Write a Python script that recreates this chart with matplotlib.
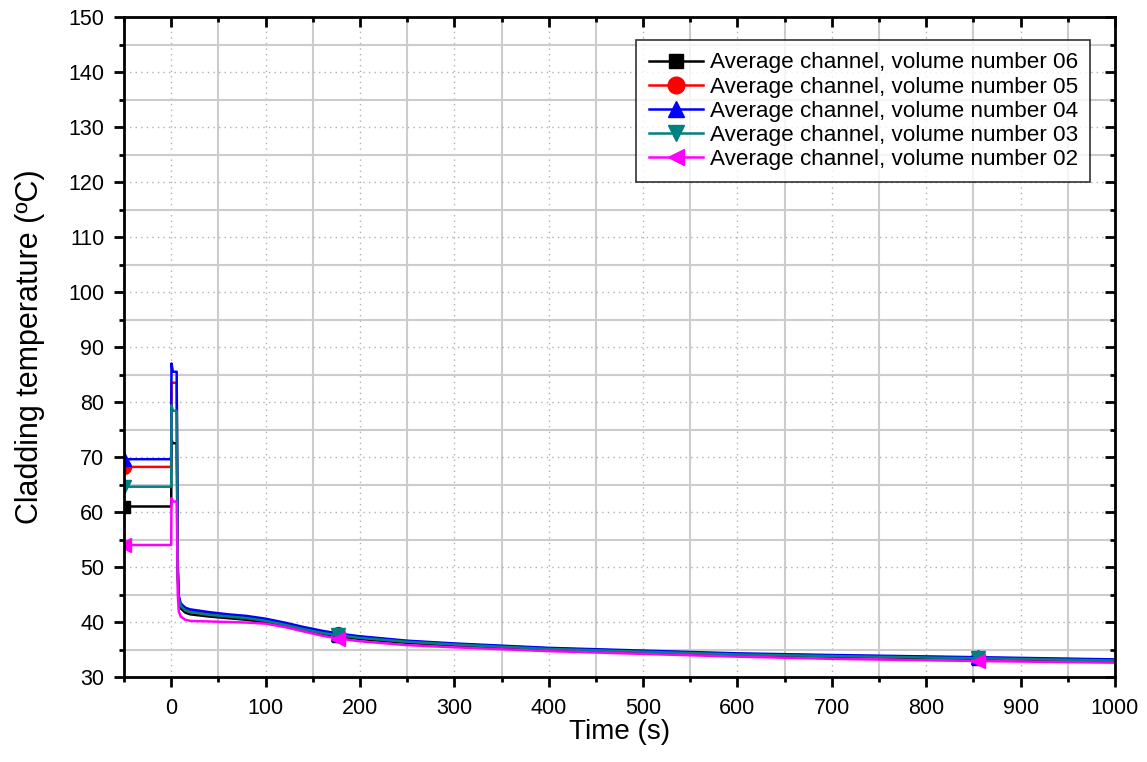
import matplotlib
matplotlib.use('Agg')

import numpy as np
import matplotlib.pyplot as plt
from matplotlib.ticker import MultipleLocator

plt.rcParams['font.family'] = ['Liberation Sans', 'DejaVu Sans']

# ── Dados ─────────────────────────────────────────────────────────────────────
t_vol04 = [-50, 0, 0.3, 1.8, 5.8, 7.0, 8, 10, 15, 20, 40, 60, 80, 100, 120, 140,
           160, 177, 200, 250, 300, 400, 500, 600, 700, 855, 1000]
T_vol04 = [69.6, 69.6, 87.0, 85.5, 85.5, 50.0, 44.8, 43.4, 42.6, 42.3, 41.8, 41.4,
           41.1, 40.6, 39.9, 39.1, 38.4, 37.9, 37.4, 36.6, 36.1, 35.3, 34.8, 34.3,
           34.0, 33.6, 33.2]

t_vol05 = [-50, 0, 0.3, 1.8, 5.8, 7.0, 8, 10, 15, 20, 40, 60, 80, 100, 120, 140,
           160, 177, 200, 250, 300, 400, 500, 600, 700, 855, 1000]
T_vol05 = [68.2, 68.2, 83.5, 83.5, 83.5, 50.0, 44.6, 43.2, 42.4, 42.1, 41.6, 41.2,
           40.9, 40.4, 39.7, 38.9, 38.2, 37.8, 37.3, 36.5, 36.0, 35.2, 34.7, 34.2,
           33.9, 33.5, 33.1]

t_vol03 = [-50, 0, 0.3, 1.8, 5.8, 7.0, 8, 10, 15, 20, 40, 60, 80, 100, 120, 140,
           160, 177, 200, 250, 300, 400, 500, 600, 700, 855, 1000]
T_vol03 = [64.6, 64.6, 79.4, 78.4, 78.4, 49.0, 44.2, 42.9, 42.1, 41.8, 41.3, 41.0,
           40.7, 40.2, 39.5, 38.7, 38.0, 37.6, 37.1, 36.4, 35.9, 35.1, 34.6, 34.1,
           33.8, 33.4, 33.0]

t_vol06 = [-50, 0, 0.3, 1.8, 5.8, 7.0, 8, 10, 15, 20, 40, 60, 80, 100, 120, 140,
           160, 177, 200, 250, 300, 400, 500, 600, 700, 855, 1000]
T_vol06 = [61.0, 61.0, 73.1, 72.5, 72.5, 48.0, 43.8, 42.5, 41.7, 41.4, 41.0, 40.7,
           40.4, 39.9, 39.2, 38.4, 37.8, 37.4, 36.9, 36.2, 35.7, 35.0, 34.5, 34.0,
           33.7, 33.3, 32.9]

t_vol02 = [-50, 0, 0.3, 1.8, 5.8, 7.0, 8, 10, 15, 20, 40, 60, 80, 100, 120, 140,
           160, 177, 200, 250, 300, 400, 500, 600, 700, 855, 1000]
T_vol02 = [54.0, 54.0, 62.5, 61.9, 61.9, 45.0, 42.0, 41.0, 40.4, 40.2, 40.1, 40.0,
           39.9, 39.7, 39.1, 38.3, 37.5, 37.0, 36.5, 35.8, 35.4, 34.7, 34.2, 33.7,
           33.3, 32.9, 32.6]

series = [
    ("Average channel, volume number 06", t_vol06, T_vol06, "black", "s", 8.5),
    ("Average channel, volume number 05", t_vol05, T_vol05, "#ff0000", "o", 10),
    ("Average channel, volume number 04", t_vol04, T_vol04, "#0000ff", "^", 10),
    ("Average channel, volume number 03", t_vol03, T_vol03, "#008080", "v", 10),
    ("Average channel, volume number 02", t_vol02, T_vol02, "#ff00ff", "<", 10),
]

# índices dos pontos com marcador (t = -50, 177, 855)
idx_marcadores = [0, 17, 25]

fig = plt.figure(figsize=(11.47, 7.62), dpi=100)
ax = fig.add_axes([124 / 1147, 1 - 677 / 762, 991 / 1147, 660 / 762])

for nome, t, T, cor, mk, ms in series:
    ax.plot(t, T, color=cor, linewidth=1.8, marker=mk, markersize=ms,
            markevery=idx_marcadores, label=nome)

ax.set_xlim(-50, 1000)
ax.set_ylim(30, 150)
ax.xaxis.set_major_locator(MultipleLocator(100))
ax.xaxis.set_minor_locator(MultipleLocator(50))
ax.yaxis.set_major_locator(MultipleLocator(10))
ax.yaxis.set_minor_locator(MultipleLocator(5))

ax.grid(which="major", color="#b0b0b0", linestyle=(0, (1, 3)), linewidth=1.0)
ax.grid(which="minor", color="#cccccc", linestyle="-", linewidth=1.5)
ax.set_axisbelow(True)

for s in ax.spines.values():
    s.set_linewidth(2)
ax.tick_params(which="major", direction="out", length=7.2, width=2,
               labelsize=15.5, pad=7)
ax.tick_params(which="minor", direction="out", length=3.6, width=2)
ax.tick_params(axis="x", which="major", pad=8)
ax.tick_params(which="both", top=True, right=True)

# ticks em cima e à direita apontam para dentro
for tk in ax.xaxis.get_major_ticks() + ax.xaxis.get_minor_ticks():
    tk.tick2line.set_marker(3)
for tk in ax.yaxis.get_major_ticks() + ax.yaxis.get_minor_ticks():
    tk.tick2line.set_marker(0)

ax.set_xlabel("Time (s)", fontsize=20, labelpad=0)
ax.set_ylabel("Cladding temperature (ºC)", fontsize=22, labelpad=17)

leg = ax.legend(loc="upper right", bbox_to_anchor=(0.975, 0.965), fontsize=16.2,
                frameon=True, fancybox=False, edgecolor="black",
                handlelength=2.4, borderpad=0.55, labelspacing=0.14,
                handletextpad=0.3, borderaxespad=0, markerscale=1.2)
leg.get_frame().set_linewidth(1.2)

plt.savefig("out.png", dpi=100)
